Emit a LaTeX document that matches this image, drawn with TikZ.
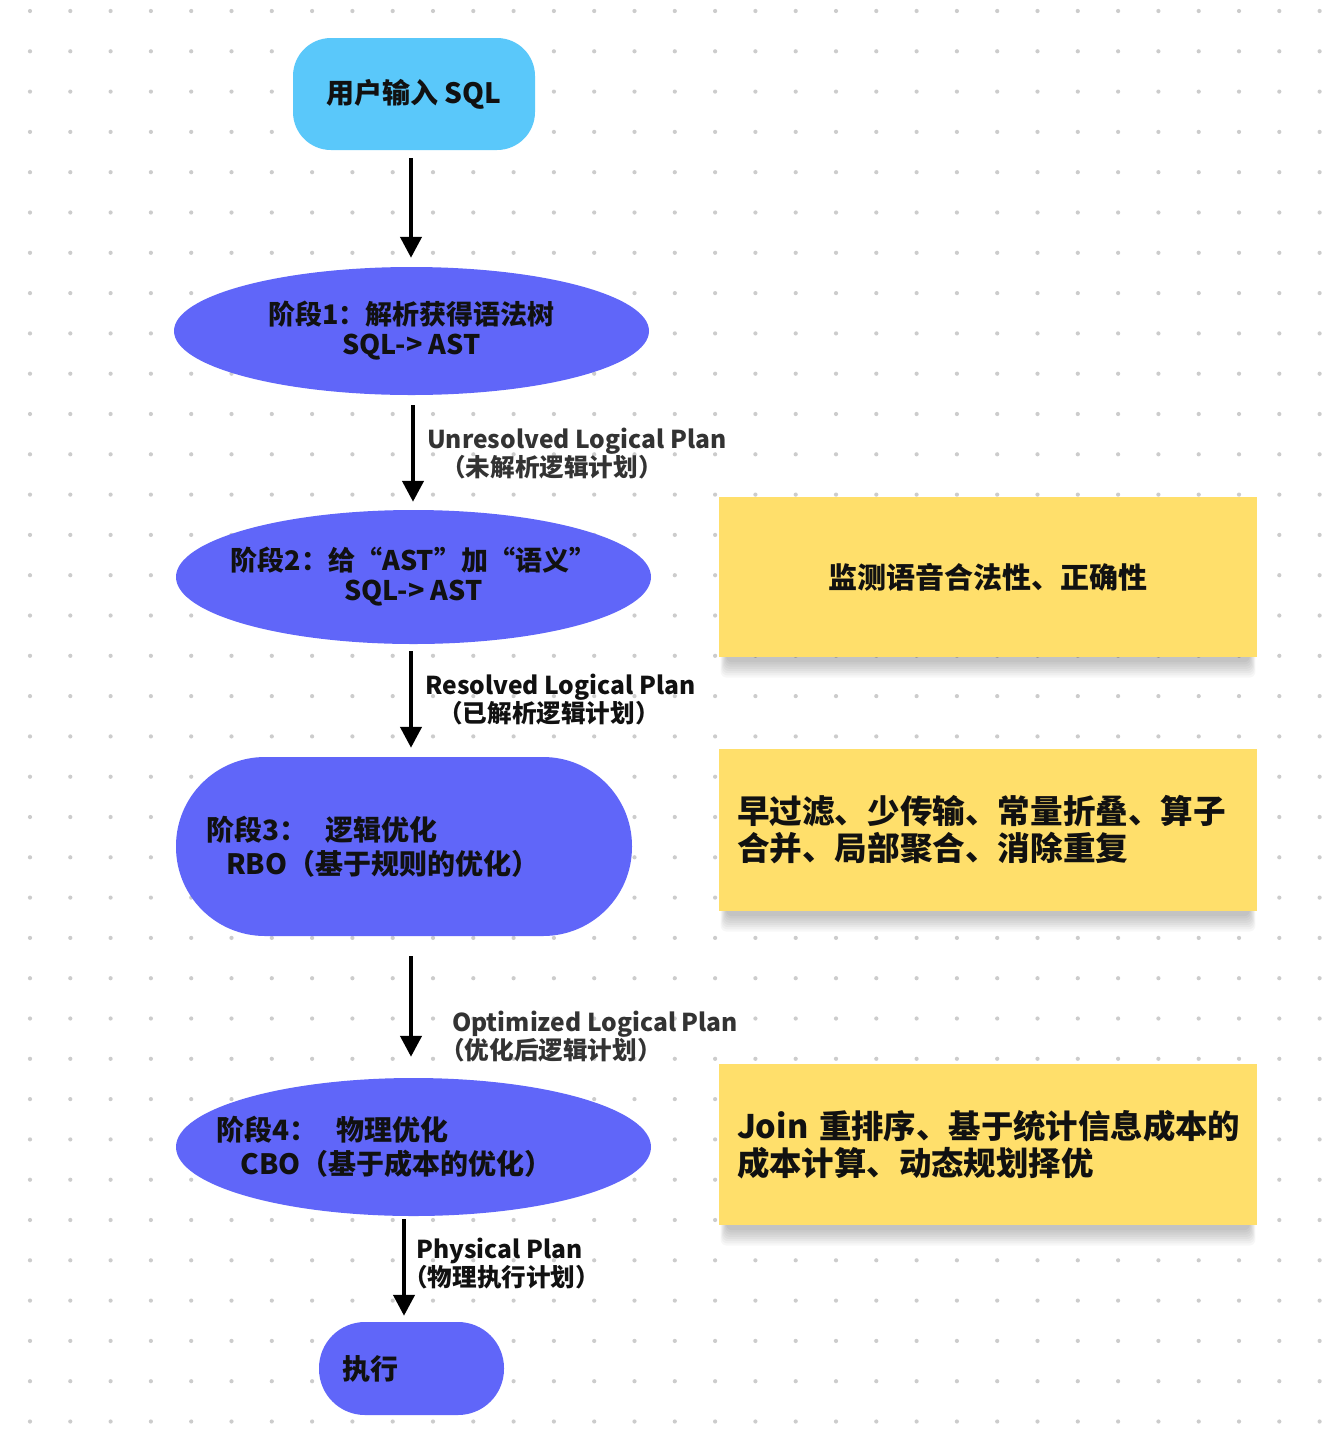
\documentclass[tikz,border=0pt]{standalone}
\usepackage{fontspec}
\setmainfont{Noto Sans CJK SC}
\usetikzlibrary{arrows.meta,calc,shapes.geometric}
\definecolor{skyc}{HTML}{5AC8FA}
\definecolor{purp}{HTML}{6066F9}
\definecolor{yel}{HTML}{FFDF6B}
\definecolor{dotc}{HTML}{CCCCCC}
\definecolor{ink}{HTML}{111111}
\definecolor{gink}{HTML}{333333}
\begin{document}
\begin{tikzpicture}[x=1pt,y=-1pt,
  stage/.style={fill=purp, draw=none, ellipse, inner ysep=0pt, inner xsep=-20pt, text=ink, align=center,
    font=\bfseries\fontsize{27}{30}\selectfont},
  stadium/.style={fill=purp, draw=none, rectangle, inner ysep=0pt, text=ink, align=left,
    font=\bfseries\fontsize{28}{34}\selectfont},
  note/.style={fill=yel, draw=none, rectangle, minimum width=538pt, inner ysep=0pt, text=ink},
  elabel/.style={anchor=west, align=left, inner sep=0pt, font=\bfseries\fontsize{24.6}{28}\selectfont},
  arr/.style={draw=black, line width=4.3pt, -{Triangle[width=21pt,length=21pt]}},
  nshadow/.style={fill=black, opacity=0.03}
]
\useasboundingbox (0,0) rectangle (1322,1436);
\fill[white] (0,0) rectangle (1322,1436);
% dotted background
\foreach \i in {0,...,32}{
  \foreach \j in {0,...,35}{
    \fill[dotc] (30+40.3*\i, 11+40.3*\j) circle (2.1);
  }
}
% shadows of the notes
\foreach \ya/\yb in {497/657, 749/911, 1064/1225}{
  \foreach \k in {1,...,8}{
    \fill[nshadow, rounded corners=6pt] (727-\k*0.8, \ya+20) rectangle (1249+\k*0.8, \yb+3+2.2*\k);
  }
}
% main flow nodes
\node[fill=skyc, draw=none, rectangle, rounded corners=38pt, minimum width=242pt, minimum height=112pt,
  inner sep=0pt, text=ink, font=\bfseries\fontsize{28}{32}\selectfont] (top) at (414,94) {用户输入 SQL};
\node[stage, minimum width=475pt, minimum height=128pt] (e1) at (411.5,331)
  {阶段1：解析获得语法树\\SQL-> AST};
\node[stage, minimum width=475pt, minimum height=134pt] (e2) at (413.5,577)
  {阶段2：给“AST”加“语义”\\SQL-> AST};
\node[stadium, rounded corners=89pt, minimum height=179pt, text width=396pt, inner xsep=30pt] (e3) at (404,846.5)
  {阶段3：\hspace{18pt}逻辑优化\\\hspace*{20pt}RBO（基于规则的优化）};
\node[stage, minimum width=475pt, minimum height=138pt, align=left, text width=400pt, inner xsep=-45pt,
  font=\bfseries\fontsize{28}{34}\selectfont] (e4) at (413.5,1147)
  {\hspace*{3pt}阶段4：\hspace{19pt}物理优化\\\hspace*{27pt}CBO（基于成本的优化）};
\node[stadium, rounded corners=46pt, minimum height=93pt, text width=139pt, inner xsep=23pt] (exec) at (411.5,1368.5)
  {执行};
% notes
\node[note, minimum height=160pt, font=\bfseries\fontsize{29}{34}\selectfont] (n1) at (988,577)
  {监测语音合法性、正确性};
\node[note, minimum height=162pt, text width=502pt, inner xsep=18pt, align=left,
  font=\bfseries\fontsize{32.6}{37}\selectfont] (n2) at (988,830)
  {早过滤、少传输、常量折叠、算子\\合并、局部聚合、消除重复};
\node[note, minimum height=161pt, text width=502pt, inner xsep=18pt, align=left,
  font=\bfseries\fontsize{32.4}{37}\selectfont] (n3) at (988,1144.5)
  {Join 重排序、基于统计信息成本的\\成本计算、动态规划择优};
% connectors
\coordinate (ax1) at (411,0);
\coordinate (ax2) at (413,0);
\coordinate (ax5) at (404,0);
\draw[arr, shorten <=8pt, shorten >=9pt] (top.south -| ax1) -- (e1.north -| ax1);
\draw[arr, shorten <=10pt, shorten >=8pt] (e1.south -| ax2) -- (e2.north -| ax2);
\draw[arr, shorten <=7pt, shorten >=9pt] (e2.south -| ax1) -- (e3.north -| ax1);
\draw[arr, shorten <=20pt, shorten >=21pt] (e3.south -| ax1) -- (e4.north -| ax1);
\draw[arr, shorten <=3pt, shorten >=6pt] (e4.south -| ax5) -- (exec.north -| ax5);
% edge labels
\node[elabel, text=gink] (l1) at (427,454) {Unresolved Logical Plan\\\hspace*{14pt}（未解析逻辑计划）};
\node[elabel, text=ink] (l2) at (425,700) {Resolved Logical Plan\\\hspace*{13pt}（已解析逻辑计划）};
\node[elabel, text=gink] (l3) at (440,1037) {\hspace*{12pt}Optimized Logical Plan\\（优化后逻辑计划）};
\node[elabel, text=ink] (l4) at (403,1264) {\hspace*{13pt}Physical Plan\\（物理执行计划）};
\end{tikzpicture}
\end{document}
